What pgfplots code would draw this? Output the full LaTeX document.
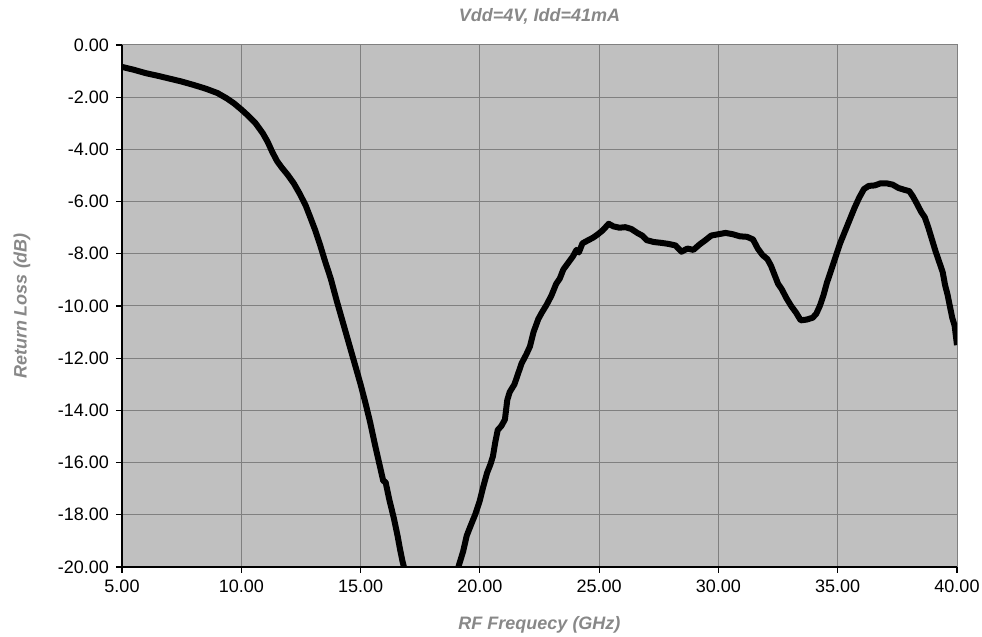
\documentclass[border=0pt]{standalone}
\usepackage{fontspec}
\setmainfont{Liberation Sans}
\usepackage{pgfplots}
\pgfplotsset{compat=1.18}
\usetikzlibrary{calc}
\definecolor{plotbg}{RGB}{192,192,192}
\definecolor{gridc}{RGB}{128,128,128}
\definecolor{labc}{RGB}{136,136,136}

\begin{document}
\begin{tikzpicture}
\begin{axis}[
  name=ax,
  scale only axis,
  width=417.5pt, height=261pt,
  xmin=5, xmax=40, ymin=-20, ymax=0,
  xtick={5,10,15,20,25,30,35,40},
  xticklabels={5.00,10.00,15.00,20.00,25.00,30.00,35.00,40.00},
  ytick={-20,-18,-16,-14,-12,-10,-8,-6,-4,-2,0},
  yticklabels={-20.00,-18.00,-16.00,-14.00,-12.00,-10.00,-8.00,-6.00,-4.00,-2.00,0.00},
  axis x line*=bottom, axis y line*=left,
  axis line style={black, line width=0.8pt, -},
  tick align=outside, major tick length=3pt,
  tick style={black, line width=0.6pt},
  tick label style={font=\fontsize{9}{10}\selectfont, black},
  grid=major, grid style={gridc, line width=0.5pt},
  axis background/.style={fill=plotbg, draw=gridc, line width=0.5pt},
  title={Vdd=4V, Idd=41mA},
  title style={font=\fontsize{9}{10}\selectfont\bfseries\itshape, text=labc,
               at={(axis description cs:0.5,1)}, anchor=base, yshift=5.5pt},
  xlabel={RF Frequecy (GHz)},
  xlabel style={font=\fontsize{9}{10}\selectfont\bfseries\itshape, text=labc,
                at={(axis description cs:0.5,0)}, anchor=base, yshift=-31.5pt},
  ylabel={Return Loss (dB)},
  ylabel style={font=\fontsize{9}{10}\selectfont\bfseries\itshape, text=labc,
                at={(axis description cs:0,0.5)}, anchor=center, yshift=50pt},
]
% measured return loss, lower branch leaves the -20 dB floor
\addplot[black, line width=3pt, line join=round] coordinates {
(5.00,-0.84)(5.5,-0.95)(6.0,-1.08)(6.5,-1.18)(7.0,-1.29)(7.5,-1.40)(8.0,-1.53)
(8.5,-1.67)(9.0,-1.84)(9.4,-2.05)(9.7,-2.24)(10.0,-2.47)(10.3,-2.72)(10.6,-3.0)
(10.9,-3.38)(11.1,-3.70)(11.3,-4.1)(11.5,-4.45)(11.7,-4.7)(11.95,-4.98)(12.2,-5.3)
(12.45,-5.7)(12.7,-6.15)(12.9,-6.62)(13.1,-7.1)(13.3,-7.65)(13.5,-8.25)(13.75,-8.95)
(14.0,-9.8)(14.25,-10.6)(14.5,-11.4)(14.75,-12.2)(15.0,-13.0)(15.2,-13.7)(15.4,-14.45)
(15.6,-15.3)(15.8,-16.1)(15.95,-16.7)(16.05,-16.75)(16.2,-17.4)(16.4,-18.15)
(16.55,-18.8)(16.65,-19.3)(16.75,-19.75)(16.9,-20.3)
};
\addplot[black, line width=3pt, line join=round] coordinates {
(19.0,-20.3)(19.15,-19.85)(19.3,-19.4)(19.45,-18.8)(19.6,-18.45)(19.8,-18.0)
(20.0,-17.45)(20.15,-16.9)(20.3,-16.4)(20.45,-16.05)(20.55,-15.75)(20.65,-15.2)
(20.75,-14.75)(20.9,-14.6)(21.05,-14.35)(21.15,-13.6)(21.25,-13.3)(21.45,-13.0)
(21.6,-12.6)(21.75,-12.2)(21.95,-11.85)(22.1,-11.55)(22.25,-11.0)(22.45,-10.5)
(22.6,-10.25)(22.8,-9.95)(23.0,-9.6)(23.2,-9.15)(23.35,-8.95)(23.5,-8.6)(23.7,-8.35)
(23.9,-8.1)(24.05,-7.85)(24.15,-7.95)(24.3,-7.6)(24.5,-7.5)(24.75,-7.38)(24.95,-7.25)
(25.15,-7.1)(25.4,-6.85)(25.6,-6.95)(25.85,-7.0)(26.1,-6.98)(26.35,-7.05)(26.6,-7.2)
(26.8,-7.3)(27.0,-7.48)(27.3,-7.55)(27.6,-7.58)(27.9,-7.62)(28.2,-7.68)(28.45,-7.92)
(28.7,-7.8)(28.95,-7.85)(29.2,-7.65)(29.45,-7.48)(29.7,-7.3)(30.0,-7.25)(30.3,-7.2)
(30.6,-7.25)(30.9,-7.33)(31.2,-7.35)(31.45,-7.45)(31.65,-7.8)(31.85,-8.05)(32.05,-8.2)
(32.2,-8.45)(32.35,-8.8)(32.5,-9.15)(32.65,-9.35)(32.85,-9.7)(33.05,-10.0)(33.25,-10.25)
(33.45,-10.55)(33.7,-10.52)(33.95,-10.45)(34.1,-10.3)(34.25,-10.0)(34.4,-9.6)
(34.55,-9.1)(34.7,-8.7)(34.9,-8.15)(35.1,-7.6)(35.3,-7.15)(35.5,-6.7)(35.7,-6.25)
(35.9,-5.85)(36.1,-5.52)(36.3,-5.4)(36.55,-5.38)(36.8,-5.3)(37.05,-5.3)(37.3,-5.35)
(37.55,-5.48)(37.8,-5.55)(38.0,-5.6)(38.15,-5.8)(38.3,-6.05)(38.5,-6.4)(38.65,-6.6)
(38.8,-7.0)(38.95,-7.45)(39.1,-7.9)(39.25,-8.3)(39.4,-8.7)(39.5,-9.2)(39.6,-9.55)
(39.7,-10.0)(39.8,-10.45)(39.9,-10.75)(40.0,-11.5)
};
\end{axis}
\pgfresetboundingbox
\path[use as bounding box] ($(ax.south west)+(-61pt,-35pt)$) rectangle ($(ax.north east)+(12.5pt,22.5pt)$);
\end{tikzpicture}
\end{document}
